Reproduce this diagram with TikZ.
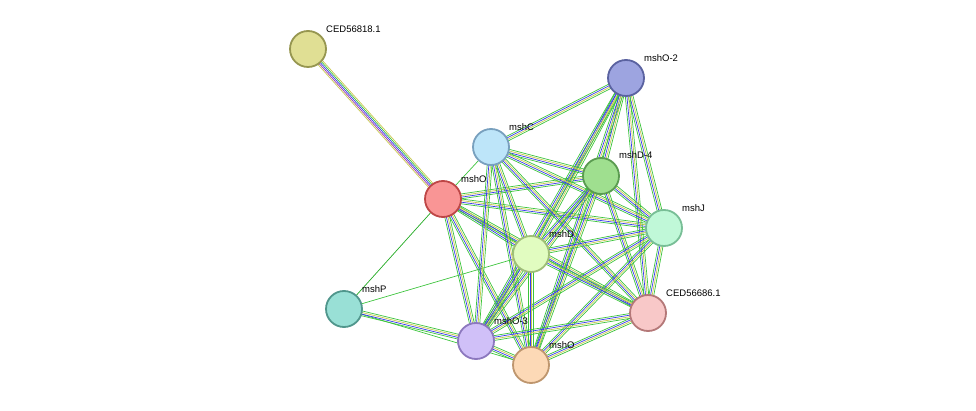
\documentclass[tikz,border=0pt]{standalone}
\usepackage{fontspec}
\setmainfont{Liberation Sans}
\usetikzlibrary{calc}
\definecolor{egreen}{HTML}{3CC43C}
\definecolor{eblue}{HTML}{3A3AF0}
\definecolor{eyellow}{HTML}{C8C84E}
\definecolor{epurple}{HTML}{9A3AA8}
\definecolor{edgreen}{HTML}{22AA22}
\tikzset{
  prot/.style={circle, minimum size=36pt, line width=1.8pt, inner sep=0pt},
  lbl/.style={font=\fontsize{9.5}{11}\selectfont, anchor=south west, inner sep=0pt},
  eline/.style={line width=0.7pt}
}
% parallel coloured lines between two points
\newcommand{\multiedge}[2]{%
  \foreach \k/\c in {-2.4pt/egreen, -0.8pt/eblue, 0.8pt/eyellow, 2.4pt/egreen}
    \draw[eline, \c] ($(#1)!\k!90:(#2)$) -- ($(#2)!\k!-90:(#1)$);
}
\begin{document}
\begin{tikzpicture}[x=1pt, y=-1pt]
  \useasboundingbox (0,0) rectangle (976,411);
  \coordinate (ced18) at (308,49);
  \coordinate (msho2) at (626,78);
  \coordinate (mshc) at (491,147);
  \coordinate (mshd4) at (601,176);
  \coordinate (mshor) at (443,199);
  \coordinate (mshj) at (664,228);
  \coordinate (mshd) at (531,254);
  \coordinate (mshp) at (344,309);
  \coordinate (ced86) at (648,313);
  \coordinate (msho3) at (476,341);
  \coordinate (mshoo) at (531,365);

  % edges
  \foreach \k/\c in {-3pt/eyellow, -1.5pt/epurple, 0pt/eblue, 1.5pt/egreen, 3pt/eyellow}
    \draw[eline, \c] ($(ced18)!\k!90:(mshor)$) -- ($(mshor)!\k!-90:(ced18)$);
  \draw[eline, edgreen] (mshor) -- (mshp);
  \draw[eline, egreen] (mshp) -- (mshd);
  \draw[eline, egreen] (mshp) -- (mshoo);
  \draw[eline, egreen] (mshor) -- (mshc);
  \multiedge{mshp}{msho3}
  \foreach \a/\b in {mshor/mshd4, mshor/mshj, mshor/mshd, mshor/ced86, mshor/msho3, mshor/mshoo,
      msho2/mshc, msho2/mshd4, msho2/mshj, msho2/mshd, msho2/ced86, msho2/msho3, msho2/mshoo,
      mshc/mshd4, mshc/mshj, mshc/mshd, mshc/ced86, mshc/msho3, mshc/mshoo,
      mshd4/mshj, mshd4/mshd, mshd4/ced86, mshd4/msho3, mshd4/mshoo,
      mshj/mshd, mshj/ced86, mshj/msho3, mshj/mshoo,
      mshd/ced86, mshd/msho3, mshd/mshoo,
      ced86/msho3, ced86/mshoo, msho3/mshoo}
    {\multiedge{\a}{\b}}

  % proteins
  \node[prot, fill={rgb,255:red,224;green,223;blue,148}, draw={rgb,255:red,150;green,150;blue,80}] (n-ced18) at (ced18) {};
  \node[prot, fill={rgb,255:red,157;green,164;blue,224}, draw={rgb,255:red,90;green,98;blue,160}] (n-msho2) at (msho2) {};
  \node[prot, fill={rgb,255:red,189;green,229;blue,249}, draw={rgb,255:red,120;green,160;blue,190}] (n-mshc) at (mshc) {};
  \node[prot, fill={rgb,255:red,159;green,223;blue,143}, draw={rgb,255:red,90;green,155;blue,80}] (n-mshd4) at (mshd4) {};
  \node[prot, fill={rgb,255:red,249;green,149;blue,149}, draw={rgb,255:red,190;green,70;blue,70}] (n-mshor) at (mshor) {};
  \node[prot, fill={rgb,255:red,192;green,248;blue,216}, draw={rgb,255:red,120;green,190;blue,150}] (n-mshj) at (mshj) {};
  \node[prot, fill={rgb,255:red,225;green,252;blue,192}, draw={rgb,255:red,160;green,190;blue,120}] (n-mshd) at (mshd) {};
  \node[prot, fill={rgb,255:red,153;green,224;blue,214}, draw={rgb,255:red,80;green,150;blue,140}] (n-mshp) at (mshp) {};
  \node[prot, fill={rgb,255:red,248;green,200;blue,200}, draw={rgb,255:red,180;green,120;blue,120}] (n-ced86) at (ced86) {};
  \node[prot, fill={rgb,255:red,208;green,192;blue,248}, draw={rgb,255:red,140;green,120;blue,190}] (n-msho3) at (msho3) {};
  \node[prot, fill={rgb,255:red,252;green,217;blue,182}, draw={rgb,255:red,190;green,150;blue,110}] (n-mshoo) at (mshoo) {};

  % labels
  \node[lbl] at (326,33) {CED56818.1};
  \node[lbl] at (644,62) {mshO-2};
  \node[lbl] at (509,131) {mshC};
  \node[lbl] at (619,159) {mshD-4};
  \node[lbl] at (461,183) {mshO};
  \node[lbl] at (682,212) {mshJ};
  \node[lbl] at (549,238) {mshD};
  \node[lbl] at (362,293) {mshP};
  \node[lbl] at (666,297) {CED56686.1};
  \node[lbl] at (494,325) {mshO-3};
  \node[lbl] at (549,349) {mshO};
\end{tikzpicture}
\end{document}
